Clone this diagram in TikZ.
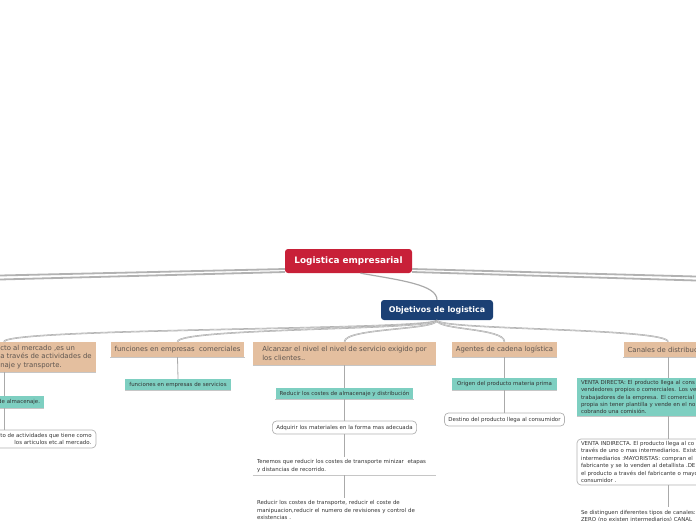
\documentclass[tikz,border=0pt]{standalone}
\usepackage{fontspec}
\setmainfont{DejaVu Sans}
\usetikzlibrary{positioning}

\definecolor{rootred}{RGB}{200,32,56}
\definecolor{objblue}{RGB}{27,64,116}
\definecolor{tanbox}{RGB}{228,191,159}
\definecolor{tealbox}{RGB}{126,207,193}
\definecolor{txtgray}{RGB}{95,86,80}
\definecolor{linegray}{RGB}{170,170,170}

\tikzset{
  rootbox/.style={fill=rootred, text=white, rounded corners=3pt,
    font=\fontsize{8.9}{10}\selectfont\bfseries, minimum width=127pt, minimum height=24pt, inner sep=0pt},
  hubbox/.style={fill=objblue, text=white, rounded corners=3pt,
    font=\fontsize{7.9}{9}\selectfont\bfseries, minimum width=112pt, minimum height=20pt, inner sep=0pt},
  shadowline/.style={append after command={(\tikzlastnode.south west) edge[draw=gray!45, line width=0.7pt] (\tikzlastnode.south east)}},
  topic/.style={fill=tanbox, text=txtgray, font=\fontsize{6.9}{8.5}\selectfont,
    inner xsep=4pt, inner ysep=0pt, minimum height=15pt, align=left, shadowline},
  leaf/.style={fill=tealbox, text=black!80, font=\fontsize{5.45}{7.4}\selectfont,
    inner xsep=4pt, inner ysep=0pt, align=left, shadowline},
  notebox/.style={draw=gray!60, line width=0.7pt, fill=white, rounded corners=4pt, text=black!80,
    font=\fontsize{5.45}{7.4}\selectfont, inner xsep=4pt, inner ysep=0pt, align=left},
  plaintext/.style={text=black!80, font=\fontsize{5.45}{7.2}\selectfont, inner xsep=4pt, inner ysep=0pt,
    align=left, text width=175pt, shadowline},
  branch/.style={draw=linegray, line width=0.6pt, double=gray!15, double distance=0.3pt},
  stem/.style={draw=linegray, line width=0.8pt},
  trunk/.style={draw=gray!60, line width=1.8pt},
}

\begin{document}
\begin{tikzpicture}[x=1pt, y=-1pt]
    \useasboundingbox (0,0) rectangle (696,520);
    \clip (0,0) rectangle (696,520);

    % centro y objetivos
    \node[rootbox] (log) at (348.5,261) {Logistica empresarial};
    \node[hubbox] (obj) at (437,310) {Objetivos de logistica};

    % ramas principales
    \node[topic, minimum width=182pt, minimum height=30pt] (mkt) at (4,357)
        {\hspace*{84pt}cto al mercado ,es un\\\hspace*{84pt}a través de actividades de\\\hspace*{84pt}naje y transporte.};
    \node[topic] (func) at (177.5,349.5) {funciones en empresas\ \ comerciales};
    \node[topic, minimum width=183pt, minimum height=23pt] (alc) at (344.5,353.5)
        {Alcanzar el nivel el nivel de servicio exigido por\\los clientes..};
    \node[topic, minimum width=105pt] (age) at (504.5,349.5) {Agentes de cadena logística};
    \node[topic] (can) at (668,349.5) {Canales de distribución};

    % hojas
    \node[leaf, minimum height=12pt, text width=72pt, align=right] (alm) at (4,402) {de almacenaje.};
    \node[notebox, minimum width=184pt, minimum height=18pt] (act) at (4,439)
        {\hspace*{84pt}to de actividades que tiene como\\\hspace*{98pt}los articulos etc.al mercado.};

    \node[leaf, minimum height=11pt] (serv) at (178,384.5) {funciones en empresas de servicios};

    \node[leaf, minimum height=11pt] (red) at (344.5,393.5) {Reducir los costes de almacenaje y distribución};
    \node[notebox, minimum height=13pt] (adq) at (344.5,427.5) {Adquirir los materiales en la forma mas adecuada};
    \node[plaintext, minimum height=18pt] (ten) at (344.5,466)
        {Tenemos que reducir los costes de transporte minizar\ \ etapas\\y distancias de recorrido.};
    \node[plaintext, minimum height=24pt] (redc) at (344.5,510)
        {Reducir los costes de transporte, reducir el coste de\\manipuacion,reducir el numero de revisiones y control de\\existencias .};

    \node[leaf, minimum width=105pt, minimum height=12pt] (ori) at (504.5,384) {Origen del producto materia prima};
    \node[notebox, minimum height=13pt] (dest) at (504.5,419.5) {Destino del producto llega al consumidor};

    \node[leaf, text width=174pt, minimum height=38pt] (vdir) at (668,397)
        {VENTA DIRECTA: El producto llega al cons\\vendedores propios o comerciales. Los ve\\trabajadores de la empresa. El comercial\\propia sin tener plantilla y vende en el no\\cobrando una comisión.};
    \node[notebox, text width=174pt, minimum height=46pt] (vind) at (668,462)
        {VENTA INDIRECTA. El producto llega al co\\través de uno o mas intermediarios. Exist\\intermediarios :MAYORISTAS: compran el\\fabricante y se lo venden al detallista .DE\\el producto a través del fabricante o mayo\\consumidor .};
    \node[plaintext, text width=174pt, minimum height=18pt, anchor=north] (tipos) at (668,507)
        {Se distinguen diferentes tipos de canales:\\ZERO (no existen intermediarios) CANAL};

    % troncos hacia ramas fuera de la vista
    \coordinate (offL1) at (0,275.5);
    \coordinate (offL2) at (0,279.5);
    \coordinate (offR1) at (696,276.5);
    \coordinate (offR2) at (696,280.5);
    \draw[trunk] ([yshift=-8pt]log.west) -- (offL1);
    \draw[trunk] ([yshift=-11pt]log.west) -- (offL2);
    \draw[trunk] ([yshift=-8pt]log.east) -- (offR1);
    \draw[trunk] ([yshift=-11pt]log.east) -- (offR2);

    % conectores
    \draw[stem, line width=1.2pt] ([xshift=12pt]log.south) .. controls +(40,7) and +(0,-15) .. (obj.north);
    \foreach \kid in {mkt,func,alc,age,can}
        \draw[branch] (obj.south) .. controls +(0,10) and +(0,-14) .. (\kid.north);

    \draw[stem] (mkt.south) -- (alm.north);
    \draw[stem] (alm.south) -- (act.north);
    \draw[stem] (func.south) -- (serv.north);
    \draw[stem] (alc.south) -- (red.north);
    \draw[stem] (red.south) -- (adq.north);
    \draw[stem] (adq.south) -- (ten.north);
    \draw[stem] (ten.south) -- (redc.north);
    \draw[stem] (age.south) -- (ori.north);
    \draw[stem] (ori.south) -- (dest.north);
    \draw[stem] (can.south) -- (vdir.north);
    \draw[stem] (vdir.south) -- (vind.north);
    \draw[stem] (vind.south) -- (tipos.north);
\end{tikzpicture}
\end{document}
